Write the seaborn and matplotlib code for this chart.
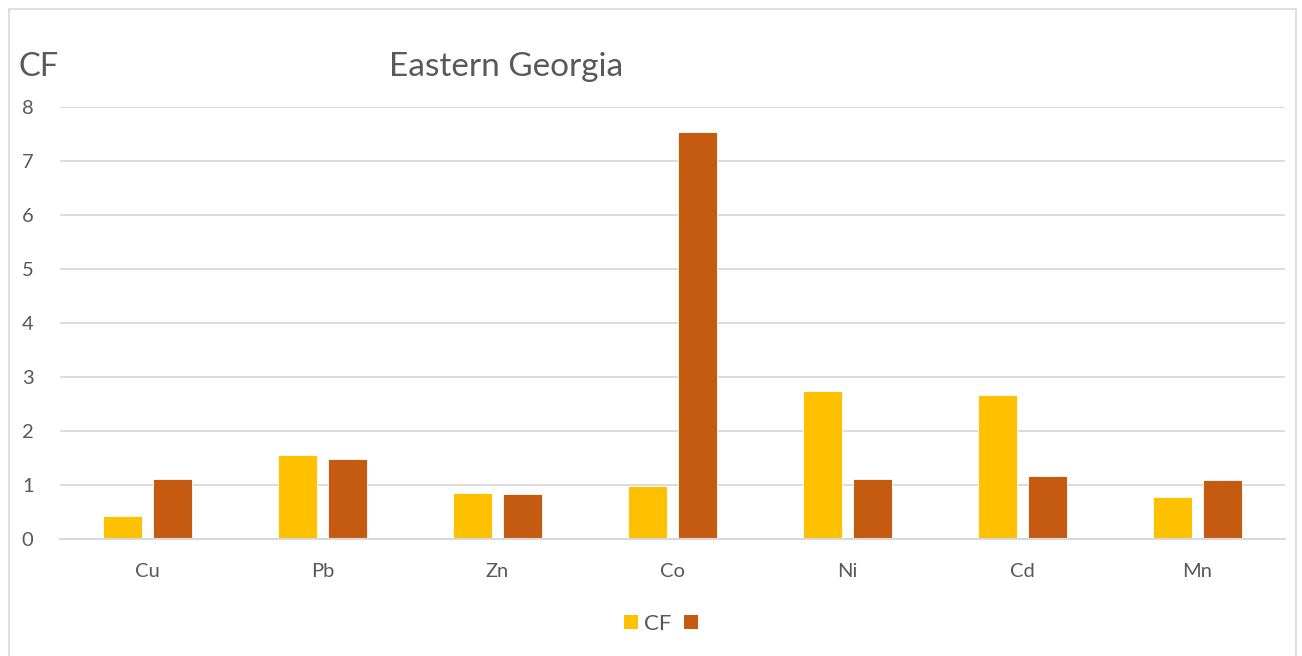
import matplotlib
matplotlib.use("Agg")
import matplotlib.pyplot as plt
import seaborn as sns
import pandas as pd
from matplotlib.patches import Patch, Rectangle

categories = ["Cu", "Pb", "Zn", "Co", "Ni", "Cd", "Mn"]
cf_values = [0.43, 1.55, 0.85, 0.98, 2.74, 2.67, 0.77]
second_values = [1.12, 1.48, 0.83, 7.53, 1.11, 1.17, 1.09]
series_names = ["CF", " "]
colors = ["#FFC000", "#C55A11"]
y_ticks = [0, 1, 2, 3, 4, 5, 6, 7, 8]

df = pd.DataFrame({
    "element": categories * 2,
    "value": cf_values + second_values,
    "series": [series_names[0]] * len(categories) + [series_names[1]] * len(categories),
})

sns.set_style("white")
plt.rcParams["font.family"] = ["Lato", "DejaVu Sans"]
text_color = "#595959"

W, H = 1302, 656
fig = plt.figure(figsize=(W / 100, H / 100), dpi=100)
ax = fig.add_axes([60 / W, 1 - 539 / H, (1285 - 60) / W, (539 - 107) / H])

sns.barplot(data=df, x="element", y="value", hue="series", order=categories,
            hue_order=series_names, palette=colors, width=0.571, gap=0.22,
            legend=False, ax=ax, edgecolor="white", linewidth=0.6, saturation=1)

ax.set_ylim(0, 8)
ax.set_xlim(-0.5, len(categories) - 0.5)
ax.set_yticks(y_ticks)
ax.yaxis.grid(True, color="#D9D9D9", linewidth=1.3)
ax.set_axisbelow(True)
for s in ["top", "right", "left"]:
    ax.spines[s].set_visible(False)
ax.spines["bottom"].set_color("#D9D9D9")
ax.spines["bottom"].set_linewidth(1.5)
ax.tick_params(axis="both", length=0, colors=text_color, labelsize=14.5)
ax.tick_params(axis="y", pad=19)
ax.tick_params(axis="x", pad=17)
ax.set_xlabel("")
ax.set_ylabel("")

fig.text(506 / W, 1 - 67 / H, "Eastern Georgia", ha="center", va="center",
         fontsize=24, color=text_color)
fig.text(19 / W, 1 - 67 / H, "CF", ha="left", va="center",
         fontsize=23.5, color=text_color)

handles = [Patch(facecolor=colors[0], edgecolor="none"),
           Patch(facecolor=colors[1], edgecolor="none")]
fig.legend(handles, ["CF", ""], loc="center", bbox_to_anchor=(664 / W, 1 - 624 / H),
           ncol=2, frameon=False, fontsize=16, handlelength=0.62, handleheight=0.62,
           handletextpad=0.3, columnspacing=0.55, labelcolor=text_color)

fig.patches.append(Rectangle((9 / W, -0.01), (1296 - 9) / W, 1 - 9 / H + 0.01,
                             transform=fig.transFigure, fill=False,
                             edgecolor="#D9D9D9", linewidth=1.2))

fig.savefig("out.png", dpi=100)
